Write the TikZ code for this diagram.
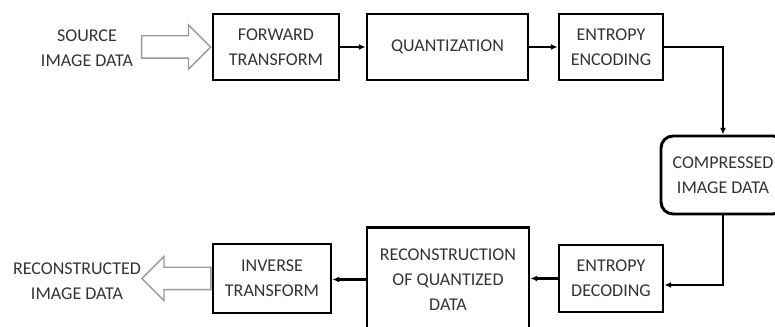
\documentclass[tikz,border=0pt]{standalone}
\usepackage{fontspec}
\setmainfont{Carlito}
\usetikzlibrary{arrows.meta,shapes.arrows,calc}

\begin{document}
\begin{tikzpicture}[x=0.75pt,y=0.75pt,yscale=-1,
	blockbox/.style={draw,line width=2.2pt,align=center,text=black!80,inner sep=0pt,font=\fontsize{13.5}{19}\selectfont},
	plain/.style={align=center,text=black!80,inner sep=0pt,font=\fontsize{13.5}{19}\selectfont},
	link/.style={line width=1.7pt,-{Latex[length=5pt,width=4.5pt]}},
	hollow/.style={single arrow,draw=black!40,line width=1pt,inner xsep=0pt,inner ysep=7.875pt,minimum height=51.75pt,single arrow head extend=8.25pt}]
	\useasboundingbox (0,0) rectangle (775,327);
	
	% Text Node
	\node (src) [plain] at (87,48.5) {SOURCE\\IMAGE DATA};
	% Text Node
	\node (rec) [plain] at (77,281.5) {RECONSTRUCTED\\IMAGE DATA};
	
	%Shape: Rectangle [id:fwd] 
	\node (fwd) [blockbox,minimum width=94.5pt,minimum height=49.5pt] at (276,47) {FORWARD\\TRANSFORM};
	%Shape: Rectangle [id:quant] 
	\node (quant) [blockbox,minimum width=120.75pt,minimum height=49.5pt] at (447.5,47) {QUANTIZATION};
	%Shape: Rectangle [id:enc] 
	\node (enc) [blockbox,minimum width=78pt,minimum height=49.5pt] at (611,47) {ENTROPY\\ENCODING};
	%Shape: Rounded Rect [id:comp] 
	\node (comp) [blockbox,rounded corners=9pt,minimum width=93pt,minimum height=58.5pt] at (723,175) {COMPRESSED\\IMAGE DATA};
	%Shape: Rectangle [id:dec] 
	\node (dec) [blockbox,minimum width=78pt,minimum height=50.25pt] at (611,278.5) {ENTROPY\\DECODING};
	%Shape: Rectangle [id:recon] 
	\node (recon) [blockbox,minimum width=121.5pt,minimum height=78pt] at (448,279.5) {RECONSTRUCTION\\OF QUANTIZED\\DATA};
	%Shape: Rectangle [id:inv] 
	\node (inv) [blockbox,minimum width=88.5pt,minimum height=51.75pt] at (272,278.5) {INVERSE\\TRANSFORM};
	
	%Shape: Right Arrow [id:srcarrow] 
	\node (srcarrow) [hollow,anchor=tip] at (fwd.west) {};
	%Shape: Left Arrow [id:recarrow] 
	\node (recarrow) [hollow,shape border rotate=180,anchor=tail] at (inv.west) {};
	
	%Straight Lines [id:fwdquant] 
	\draw [link] (fwd) -- (quant);
	%Straight Lines [id:quantenc] 
	\draw [link] (quant) -- (enc);
	%Straight Lines [id:enccomp] 
	\draw [link] (enc.east) -| (comp.north);
	%Straight Lines [id:compdec] 
	\draw [link] (comp.south) |- ($(dec.east)+(0,6.5)$);
	%Straight Lines [id:decrecon] 
	\draw [link] (dec.west) -- (dec.west -| recon.east);
	%Straight Lines [id:reconinv] 
	\draw [link] (recon.west) -- (recon.west -| inv.east);
	
\end{tikzpicture}
\end{document}
